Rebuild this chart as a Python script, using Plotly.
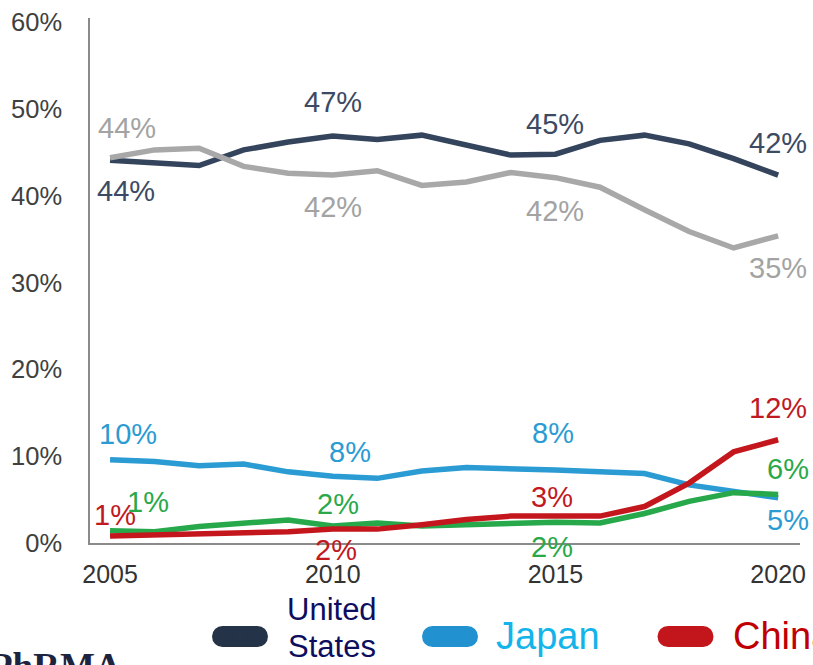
import plotly.graph_objects as go

# Share of global pharmaceutical sales by region, 2005-2020
years = list(range(2005, 2021))

united_states = [44.1, 43.8, 43.5, 45.3, 46.2, 46.9, 46.5, 47.0, 45.9, 44.7, 44.8, 46.4, 47.0, 46.0, 44.3, 42.4]
europe = [44.4, 45.3, 45.5, 43.4, 42.6, 42.4, 42.9, 41.2, 41.6, 42.7, 42.1, 41.0, 38.4, 35.9, 34.0, 35.4]
japan = [9.6, 9.4, 8.9, 9.1, 8.2, 7.7, 7.45, 8.3, 8.7, 8.6, 8.4, 8.2, 8.0, 6.7, 5.9, 5.2]
china = [0.8, 0.9, 1.0, 1.1, 1.3, 1.6, 1.6, 2.1, 2.7, 3.1, 3.1, 3.1, 4.2, 6.9, 10.5, 11.9]
other = [1.4, 1.3, 1.9, 2.2, 2.65, 1.95, 2.3, 1.95, 2.1, 2.1, 2.4, 2.3, 3.4, 4.8, 5.8, 5.6]

y_ticks = [0, 10, 20, 30, 40, 50, 60]
x_ticks = [2005, 2010, 2015, 2020]

NAVY, NAVY_TXT = "#33445c", "#3c4a63"
GREY, GREY_TXT = "#a8a8a8", "#a3a3a3"
BLUE, BLUE_TXT = "#2b9bd3", "#2b9bd3"
RED, RED_TXT = "#c4171d", "#c0191f"
GREEN, GREEN_TXT = "#26a84b", "#2aa84a"

series = [
    ("United States", united_states, NAVY),
    ("Europe", europe, GREY),
    ("Japan", japan, BLUE),
    ("Other", other, GREEN),
    ("China", china, RED),
]

fig = go.Figure()
for name, vals, col in series:
    fig.add_trace(go.Scatter(
        x=years, y=vals, mode="lines", name=name,
        line=dict(color=col, width=5.5, shape="linear"),
        showlegend=False, hoverinfo="skip",
    ))

# value labels: (series values, year, colour, xshift, yshift)
labels = [
    (united_states, 2005, NAVY_TXT, 16, -31),
    (europe, 2005, GREY_TXT, 17, 30),
    (united_states, 2010, NAVY_TXT, 0, 34),
    (europe, 2010, GREY_TXT, 0, -32),
    (united_states, 2015, NAVY_TXT, 0, 30),
    (europe, 2015, GREY_TXT, 0, -33),
    (united_states, 2020, NAVY_TXT, 0, 32),
    (europe, 2020, GREY_TXT, 0, -32),
    (japan, 2005, BLUE_TXT, 18, 26),
    (japan, 2010, BLUE_TXT, 17, 24),
    (japan, 2015, BLUE_TXT, -2, 37),
    (japan, 2020, BLUE_TXT, 10, -22),
    (china, 2005, RED_TXT, 5, 21),
    (other, 2005, GREEN_TXT, 38, 29),
    (other, 2010, GREEN_TXT, 5, 22),
    (china, 2010, RED_TXT, 3, -21),
    (china, 2015, RED_TXT, -3, 19),
    (other, 2015, GREEN_TXT, -3, -25),
    (china, 2020, RED_TXT, 0, 32),
    (other, 2020, GREEN_TXT, 10, 25),
]
for vals, yr, col, dx, dy in labels:
    v = vals[years.index(yr)]
    fig.add_annotation(
        x=yr, y=v, xref="x", yref="y", text=f"{v:.0f}%", showarrow=False,
        xshift=dx, yshift=dy, xanchor="center", yanchor="middle",
        font=dict(family="Liberation Sans, Arial, sans-serif", size=29, color=col),
    )

# plot area geometry (pixels) for placing the bottom key
W, H = 813, 665
ML, MR, MT, MB = 90, 13, 18, 122
PW, PH = W - ML - MR, H - MT - MB


def px(xp):
    return (xp - ML) / PW


def py(yp):
    return (H - MB - yp) / PH


def pill(cx, cy, color, length=56, thick=21):
    r = thick / 2
    half = length / 2 - r
    common = dict(xref="paper", yref="paper", xsizemode="pixel", ysizemode="pixel",
                  xanchor=px(cx), yanchor=py(cy), fillcolor=color,
                  line=dict(width=0), layer="above")
    fig.add_shape(type="rect", x0=-half, x1=half, y0=-r, y1=r, **common)
    fig.add_shape(type="circle", x0=-half - r, x1=-half + r, y0=-r, y1=r, **common)
    fig.add_shape(type="circle", x0=half - r, x1=half + r, y0=-r, y1=r, **common)


pill(240, 636.5, "#243347")
pill(450, 636.5, "#2191d0")
pill(685.5, 636.5, "#c3161c")

regular = "Liberation Sans, Arial, sans-serif"
fig.add_annotation(x=px(332), y=py(609), xref="paper", yref="paper", text="United",
                   showarrow=False, xanchor="center", yanchor="middle",
                   font=dict(family=regular, size=31, color="#0e0e5f"))
fig.add_annotation(x=px(332), y=py(646), xref="paper", yref="paper", text="States",
                   showarrow=False, xanchor="center", yanchor="middle",
                   font=dict(family=regular, size=31, color="#0e0e5f"))
fig.add_annotation(x=px(494), y=py(636), xref="paper", yref="paper", text="Japan",
                   showarrow=False, xanchor="left", yanchor="middle",
                   font=dict(family=regular, size=38, color="#13b4ea"))
fig.add_annotation(x=px(731), y=py(636), xref="paper", yref="paper", text="China",
                   showarrow=False, xanchor="left", yanchor="middle",
                   font=dict(family=regular, size=38, color="#c00000"))
fig.add_annotation(x=px(-12), y=py(644), xref="paper", yref="paper", text="<b>PhRMA</b>",
                   showarrow=False, xanchor="left", yanchor="top",
                   font=dict(family="Liberation Serif, Times New Roman, serif", size=37,
                             color="#1d2440"))

fig.update_layout(
    width=W, height=H,
    margin=dict(l=ML, r=MR, t=MT, b=MB, autoexpand=False),
    paper_bgcolor="white", plot_bgcolor="white",
    showlegend=False,
    xaxis=dict(
        range=[2004.55, 2020.49], tickmode="array", tickvals=x_ticks,
        ticktext=[str(t) for t in x_ticks], showgrid=False, zeroline=False,
        showline=True, linecolor="#8a8a8a", linewidth=1.5, ticks="",
        ticklabelstandoff=8,
        tickfont=dict(family=regular, size=25, color="#333333"),
    ),
    yaxis=dict(
        range=[0, 60.5], tickmode="array", tickvals=y_ticks,
        ticktext=[f"{t}%" for t in y_ticks], showgrid=False, zeroline=False,
        showline=True, linecolor="#8a8a8a", linewidth=1.5, ticks="",
        ticklabelstandoff=21,
        tickfont=dict(family=regular, size=25.5, color="#404040"),
    ),
)

fig.write_html("out.html")
